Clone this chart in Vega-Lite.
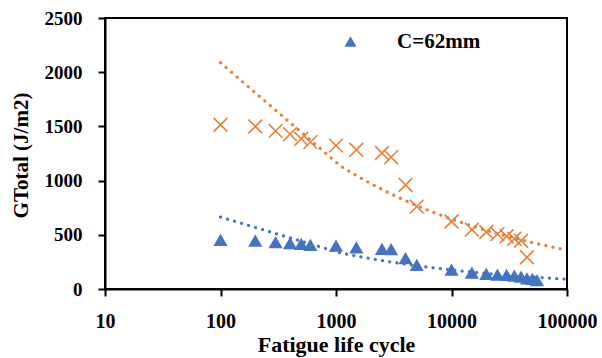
{
  "$schema": "https://vega.github.io/schema/vega-lite/v6.json",
  "width": 462,
  "height": 271,
  "autosize": "none",
  "padding": {"left": 105, "top": 18, "right": 35, "bottom": 69},
  "background": "white",
  "config": {
    "view": {"stroke": "black", "strokeWidth": 2},
    "axis": {"grid": false, "domainColor": "black", "domainWidth": 2, "tickColor": "black", "tickWidth": 2, "tickSize": 7,
      "labelFont": "Liberation Serif", "labelFontWeight": "bold", "labelColor": "black",
      "titleFont": "Liberation Serif", "titleFontWeight": "bold", "titleColor": "black",
      "labelFlush": false, "labelOverlap": false, "labelBound": false}
  },
  "data": {"values": [
    {"series": "C=62mm", "N": 100, "G": 454},
    {"series": "C=62mm", "N": 200, "G": 447},
    {"series": "C=62mm", "N": 300, "G": 432},
    {"series": "C=62mm", "N": 400, "G": 423},
    {"series": "C=62mm", "N": 500, "G": 417},
    {"series": "C=62mm", "N": 600, "G": 407},
    {"series": "C=62mm", "N": 1000, "G": 401},
    {"series": "C=62mm", "N": 1500, "G": 383},
    {"series": "C=62mm", "N": 2500, "G": 370},
    {"series": "C=62mm", "N": 3000, "G": 367},
    {"series": "C=62mm", "N": 4000, "G": 284},
    {"series": "C=62mm", "N": 5000, "G": 222},
    {"series": "C=62mm", "N": 10000, "G": 178},
    {"series": "C=62mm", "N": 15000, "G": 151},
    {"series": "C=62mm", "N": 20000, "G": 139},
    {"series": "C=62mm", "N": 25000, "G": 132},
    {"series": "C=62mm", "N": 30000, "G": 130},
    {"series": "C=62mm", "N": 35000, "G": 123},
    {"series": "C=62mm", "N": 40000, "G": 114},
    {"series": "C=62mm", "N": 45000, "G": 99},
    {"series": "C=62mm", "N": 50000, "G": 93},
    {"series": "C=62mm", "N": 55000, "G": 83},
    {"series": "Series2", "N": 100, "G": 1515},
    {"series": "Series2", "N": 200, "G": 1499},
    {"series": "Series2", "N": 300, "G": 1459},
    {"series": "Series2", "N": 400, "G": 1429},
    {"series": "Series2", "N": 500, "G": 1385},
    {"series": "Series2", "N": 600, "G": 1355},
    {"series": "Series2", "N": 1000, "G": 1323},
    {"series": "Series2", "N": 1500, "G": 1284},
    {"series": "Series2", "N": 2500, "G": 1254},
    {"series": "Series2", "N": 3000, "G": 1216},
    {"series": "Series2", "N": 4000, "G": 960},
    {"series": "Series2", "N": 5000, "G": 760},
    {"series": "Series2", "N": 10000, "G": 623},
    {"series": "Series2", "N": 15000, "G": 548},
    {"series": "Series2", "N": 20000, "G": 526},
    {"series": "Series2", "N": 25000, "G": 506},
    {"series": "Series2", "N": 30000, "G": 486},
    {"series": "Series2", "N": 35000, "G": 464},
    {"series": "Series2", "N": 40000, "G": 445},
    {"series": "Series2", "N": 45000, "G": 293}
  ]},
  "encoding": {
    "x": {"field": "N", "type": "quantitative",
      "scale": {"type": "log", "domain": [10, 100000], "nice": false},
      "axis": {"values": [10, 100, 1000, 10000, 100000], "format": "d", "labelFontSize": 20, "labelPadding": 31, "labelBaseline": "alphabetic",
        "title": "Fatigue life cycle", "titleFontSize": 22, "titleX": 231, "titleY": 62, "titleAlign": "center", "titleBaseline": "alphabetic"}},
    "y": {"field": "G", "type": "quantitative",
      "scale": {"domain": [0, 2500], "nice": false},
      "axis": {"values": [0, 500, 1000, 1500, 2000, 2500], "format": "d", "labelFontSize": 19, "labelPadding": 16,
        "title": "GTotal (J/m2)", "titleFontSize": 21, "titleX": -78, "titleY": 137, "titleAngle": -90, "titleAlign": "center", "titleBaseline": "alphabetic"}}
  },
  "layer": [
    {
      "transform": [{"filter": "datum.series === 'Series2'"}],
      "mark": {"type": "point", "shape": "M-1,-1L1,1M-1,1L1,-1", "filled": false, "stroke": "#ED7D31", "strokeWidth": 1.6, "size": 190, "opacity": 1}
    },
    {
      "transform": [{"filter": "datum.series === 'C=62mm'"}],
      "mark": {"type": "point", "filled": true, "size": 200, "opacity": 1},
      "encoding": {
        "color": {"field": "series", "type": "nominal", "scale": {"range": ["#4472C4"]},
          "legend": {"title": null, "orient": "none", "legendX": 235, "legendY": 13, "padding": 0, "symbolSize": 144, "labelOffset": 36,
            "labelFont": "Liberation Serif", "labelFontWeight": "bold", "labelFontSize": 21, "labelColor": "black", "symbolStrokeWidth": 0}},
        "shape": {"field": "series", "type": "nominal", "scale": {"range": ["triangle-up"]}}
      }
    },
    {
      "transform": [{"filter": "datum.series === 'Series2'"}, {"regression": "G", "on": "N", "method": "pow", "extent": [100, 100000]}],
      "mark": {"type": "line", "color": "#ED7D31", "strokeWidth": 3.2, "strokeDash": [0.1, 7.2], "strokeCap": "round"}
    },
    {
      "transform": [{"filter": "datum.series === 'C=62mm'"}, {"regression": "G", "on": "N", "method": "pow", "extent": [100, 100000]}],
      "mark": {"type": "line", "color": "#4472C4", "strokeWidth": 3.2, "strokeDash": [0.1, 7.2], "strokeCap": "round"}
    }
  ]
}
